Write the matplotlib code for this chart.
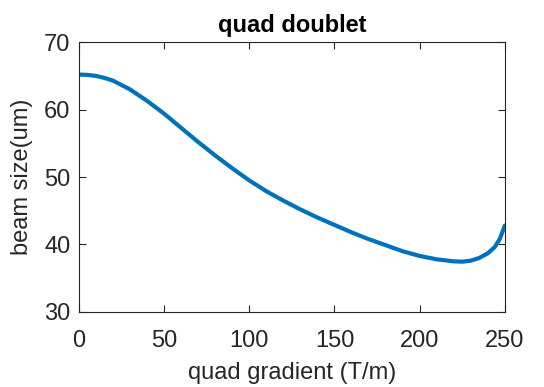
import matplotlib
matplotlib.use("Agg")
import matplotlib.pyplot as plt

gradient = [0, 5, 10, 15, 20, 30, 40, 50, 60, 70, 80, 90, 100, 110, 120, 130, 140, 150,
            160, 170, 180, 190, 200, 210, 220, 225, 230, 235, 240, 244, 247, 250]
beam_size = [65.2, 65.15, 65.0, 64.7, 64.3, 63.0, 61.3, 59.4, 57.3, 55.2, 53.2, 51.3,
             49.5, 47.9, 46.5, 45.2, 44.0, 42.9, 41.8, 40.8, 39.9, 39.0, 38.3, 37.8,
             37.5, 37.45, 37.6, 38.0, 38.7, 39.6, 40.8, 42.8]
xticks = [0, 50, 100, 150, 200, 250]
yticks = [30, 40, 50, 60, 70]

plt.rcParams['font.family'] = ['Liberation Sans', 'DejaVu Sans']
fig = plt.figure(figsize=(5.44, 3.87), dpi=100)
ax = fig.add_axes([0.145, 0.194, 0.783, 0.697])
ax.plot(gradient, beam_size, color='#0072BD', lw=3.0, solid_capstyle='round',
        solid_joinstyle='round')
ax.set_xlim(0, 250)
ax.set_ylim(30, 70)
ax.set_xticks(xticks)
ax.set_yticks(yticks)
c = '#262626'
ax.tick_params(direction='in', top=True, right=True, labelsize=17, colors=c, length=5)
ax.tick_params(axis='x', pad=13)
ax.tick_params(axis='y', pad=6)
for s in ax.spines.values():
    s.set_color(c)
    s.set_linewidth(0.8)
ax.set_xlabel('quad gradient (T/m)', fontsize=17, color=c, labelpad=7)
ax.set_ylabel('beam size(um)', fontsize=17, color=c, labelpad=8)
ax.set_title('quad doublet', fontsize=17, fontweight='bold', color='black', pad=7)
fig.savefig('out.png', dpi=100)
